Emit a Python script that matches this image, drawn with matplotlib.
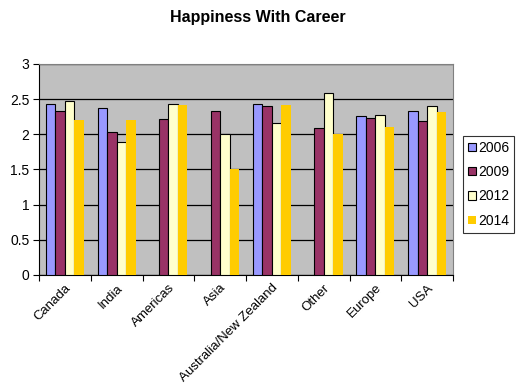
import numpy as np
import matplotlib
matplotlib.use("Agg")
import matplotlib.pyplot as plt

plt.rcParams['font.family'] = ['Liberation Sans', 'DejaVu Sans']

categories = ["Canada", "India", "Americas", "Asia", "Australia/New Zealand",
              "Other", "Europe", "USA"]
years = ["2006", "2009", "2012", "2014"]
v2006 = [2.43, 2.37, np.nan, np.nan, 2.43, np.nan, 2.26, 2.33]
v2009 = [2.33, 2.03, 2.22, 2.33, 2.40, 2.09, 2.23, 2.19]
v2012 = [2.47, 1.89, 2.43, 2.00, 2.16, 2.59, 2.27, 2.40]
v2014 = [2.20, 2.20, 2.41, 1.50, 2.41, 2.01, 2.11, 2.31]
yticks = [0, 0.5, 1, 1.5, 2, 2.5, 3]
ytick_labels = ["0", "0.5", "1", "1.5", "2", "2.5", "3"]

series = [v2006, v2009, v2012, v2014]
colors = ["#9999FF", "#993366", "#FFFFCC", "#FFCC00"]
edges = ["black", "black", "black", "none"]

fig = plt.figure(figsize=(5.16, 3.90), dpi=100)
ax = fig.add_axes([0.0756, 0.295, 0.8024, 0.541])
ax.set_facecolor("#C0C0C0")

x = np.arange(len(categories))
w = 0.184
for i, (vals, c, e) in enumerate(zip(series, colors, edges)):
    ax.bar(x + (i - 1.5) * w, vals, width=w, color=c, edgecolor=e,
           linewidth=0.8, label=years[i], zorder=3)

ax.set_ylim(0, 3)
ax.set_xlim(-0.5, len(categories) - 0.5)
ax.set_yticks(yticks)
ax.set_yticklabels(ytick_labels, fontsize=10)
ax.yaxis.grid(True, color="black", linewidth=0.9, zorder=1)
ax.set_axisbelow(True)

# category boundary ticks
ax.set_xticks(np.arange(len(categories) + 1) - 0.5)
ax.set_xticklabels([])
ax.set_xticks(x, minor=True)
ax.set_xticklabels(categories, minor=True, rotation=45, ha="right",
                   rotation_mode="anchor", fontsize=9.5)
ax.tick_params(axis="x", which="minor", length=0, pad=5)
ax.tick_params(axis="x", which="major", length=4, direction="out", color="black")
ax.tick_params(axis="y", length=4, direction="out", pad=3)

for s in ["top", "right"]:
    ax.spines[s].set_color("#808080")
for s in ["left", "bottom"]:
    ax.spines[s].set_color("black")

fig.text(0.5, 0.955, "Happiness With Career", ha="center", va="center",
         fontsize=11.5, fontweight="bold")

leg = ax.legend(loc="center left", bbox_to_anchor=(1.025, 0.43), fontsize=10,
                frameon=True, fancybox=False, edgecolor="black",
                handlelength=0.55, handleheight=0.55, handletextpad=0.15,
                labelspacing=0.75, borderpad=0.35, borderaxespad=0)
leg.get_frame().set_linewidth(0.8)

fig.savefig("out.png", dpi=100)
